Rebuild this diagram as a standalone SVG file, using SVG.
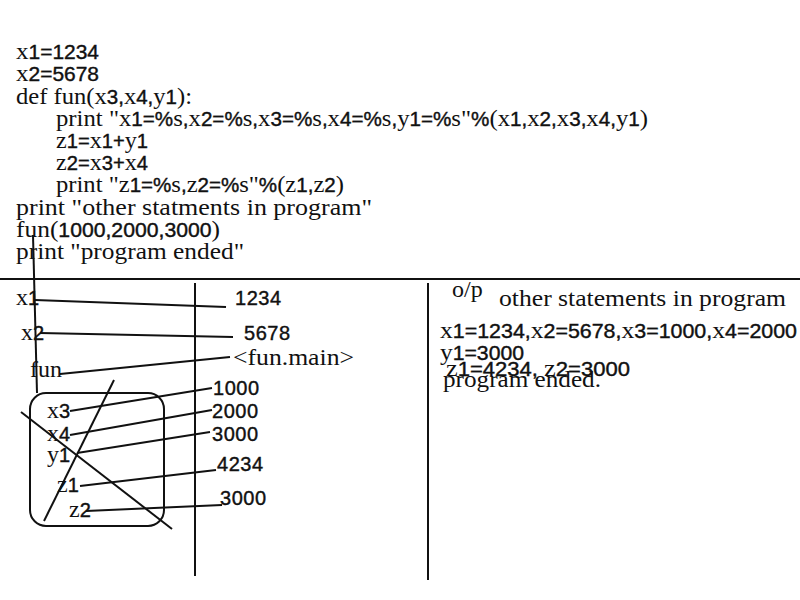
<svg xmlns="http://www.w3.org/2000/svg" width="800" height="600" viewBox="0 0 800 600">
<style>
text{fill:#111;font-family:"Liberation Serif",serif;font-size:24px}
.n,.ns{font-family:"Liberation Sans",Arial,sans-serif;font-size:20px;stroke:#111;stroke-width:0.4}
.ln{stroke:#111;stroke-width:2;fill:none}
</style>
<rect width="800" height="600" fill="#fff"/>
<g id="code">
<text x="16" y="59" textLength="83" lengthAdjust="spacingAndGlyphs">x<tspan class="n">1=1234</tspan></text>
<text x="16" y="81" textLength="83" lengthAdjust="spacingAndGlyphs">x<tspan class="n">2=5678</tspan></text>
<text x="16" y="104" textLength="176" lengthAdjust="spacingAndGlyphs">def fun(x<tspan class="n">3,</tspan>x<tspan class="n">4,</tspan>y<tspan class="n">1</tspan>):</text>
<text x="56" y="126" textLength="592" lengthAdjust="spacingAndGlyphs">print "x<tspan class="n">1=%</tspan>s<tspan class="n">,</tspan>x<tspan class="n">2=%</tspan>s<tspan class="n">,</tspan>x<tspan class="n">3=%</tspan>s<tspan class="n">,</tspan>x<tspan class="n">4=%</tspan>s<tspan class="n">,</tspan>y<tspan class="n">1=%</tspan>s"<tspan class="n">%</tspan>(x<tspan class="n">1,</tspan>x<tspan class="n">2,</tspan>x<tspan class="n">3,</tspan>x<tspan class="n">4,</tspan>y<tspan class="n">1</tspan>)</text>
<text x="56" y="148" textLength="92" lengthAdjust="spacingAndGlyphs">z<tspan class="n">1=</tspan>x<tspan class="n">1+</tspan>y<tspan class="n">1</tspan></text>
<text x="56" y="170" textLength="92" lengthAdjust="spacingAndGlyphs">z<tspan class="n">2=</tspan>x<tspan class="n">3+</tspan>x<tspan class="n">4</tspan></text>
<text x="56" y="192" textLength="288" lengthAdjust="spacingAndGlyphs">print "z<tspan class="n">1=%</tspan>s<tspan class="n">,</tspan>z<tspan class="n">2=%</tspan>s"<tspan class="n">%</tspan>(z<tspan class="n">1,</tspan>z<tspan class="n">2</tspan>)</text>
<text x="16" y="215" textLength="356" lengthAdjust="spacingAndGlyphs">print "other statments in program"</text>
<text x="16" y="237" textLength="204" lengthAdjust="spacingAndGlyphs">fun(<tspan class="n">1000,2000,3000</tspan>)</text>
<text x="16" y="259" textLength="228" lengthAdjust="spacingAndGlyphs">print "program ended"</text>
</g>
<g id="frame">
<line class="ln" x1="0" y1="279" x2="800" y2="279"/>
<line class="ln" x1="195" y1="283" x2="195" y2="576"/>
<line class="ln" x1="428" y1="283" x2="428" y2="580"/>
</g>
<g id="scope">
<rect class="ln" x="30" y="393" width="134" height="133" rx="16"/>
<line class="ln" x1="21" y1="412" x2="172" y2="529"/>
<line class="ln" x1="114" y1="380" x2="44" y2="521"/>
</g>
<g id="connectors">
<line class="ln" x1="33" y1="235" x2="37" y2="393"/>
<line class="ln" x1="35" y1="300" x2="226" y2="307"/>
<line class="ln" x1="40" y1="333" x2="233" y2="337"/>
<line class="ln" x1="60" y1="374" x2="230" y2="357"/>
<line class="ln" x1="70" y1="411" x2="212" y2="388"/>
<line class="ln" x1="70" y1="435" x2="212" y2="410"/>
<line class="ln" x1="77" y1="453" x2="210" y2="432"/>
<line class="ln" x1="80" y1="486" x2="216" y2="470"/>
<line class="ln" x1="86" y1="511" x2="222" y2="505"/>
</g>
<g id="var-x1"><text x="16" y="305">x<tspan class="n">1</tspan></text></g>
<g id="val-1234"><text x="235" y="305" class="ns" textLength="46">1234</text></g>
<g id="var-x2"><text x="21" y="340">x<tspan class="n">2</tspan></text></g>
<g id="val-5678"><text x="244" y="340" class="ns" textLength="46">5678</text></g>
<g id="var-fun"><text x="30" y="377">fun</text></g>
<g id="val-funmain"><text x="233" y="365" textLength="121" lengthAdjust="spacingAndGlyphs">&lt;fun.main&gt;</text></g>
<g id="var-x3"><text x="47" y="418">x<tspan class="n">3</tspan></text></g>
<g id="val-1000"><text x="213" y="395" class="ns" textLength="46">1000</text></g>
<g id="var-x4"><text x="47" y="441">x<tspan class="n">4</tspan></text></g>
<g id="val-2000"><text x="212" y="418" class="ns" textLength="46">2000</text></g>
<g id="var-y1"><text x="47" y="462">y<tspan class="n">1</tspan></text></g>
<g id="val-3000a"><text x="212" y="441" class="ns" textLength="46">3000</text></g>
<g id="var-z1"><text x="57" y="492">z<tspan class="n">1</tspan></text></g>
<g id="val-4234"><text x="217" y="471" class="ns" textLength="46">4234</text></g>
<g id="var-z2"><text x="69" y="517">z<tspan class="n">2</tspan></text></g>
<g id="val-3000b"><text x="220" y="505" class="ns" textLength="46">3000</text></g>
<g id="output">
<text x="452" y="297">o/p</text>
<text x="499" y="306" textLength="287" lengthAdjust="spacingAndGlyphs">other statements in program</text>
<text x="440" y="338" textLength="357" lengthAdjust="spacingAndGlyphs">x<tspan class="n">1=1234,</tspan>x<tspan class="n">2=5678,</tspan>x<tspan class="n">3=1000,</tspan>x<tspan class="n">4=2000</tspan></text>
<text x="440" y="360" textLength="84" lengthAdjust="spacingAndGlyphs">y<tspan class="n">1=3000</tspan></text>
<text x="443" y="387" textLength="158" lengthAdjust="spacingAndGlyphs">program  ended.</text>
<text x="446" y="376" textLength="184" lengthAdjust="spacingAndGlyphs">z<tspan class="n">1=4234,  </tspan>z<tspan class="n">2=3000</tspan></text>
</g>
</svg>
